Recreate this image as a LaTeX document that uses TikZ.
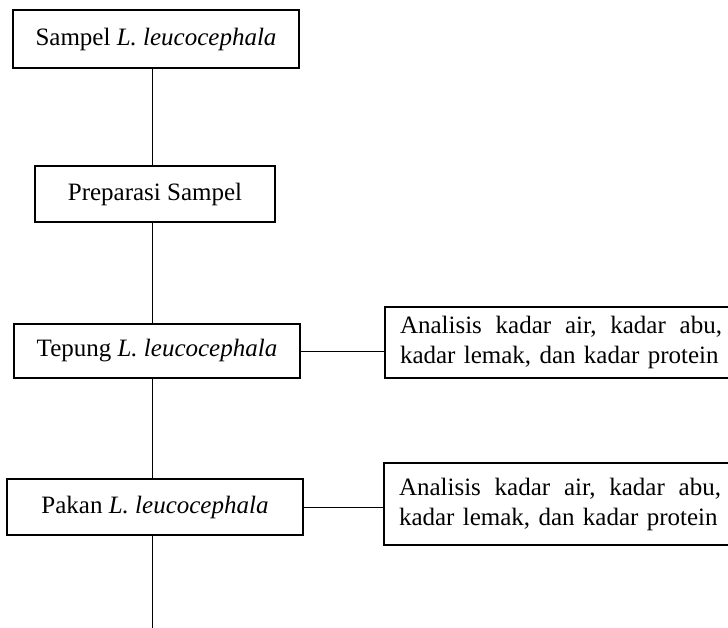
\documentclass[tikz,border=0pt]{standalone}
\usepackage{fontspec}
\setmainfont{Liberation Serif}
\newcommand{\firstline}{\hbox to 322pt{Analisis\hfill kadar\hfill air,\hfill kadar\hfill abu,}}
\begin{document}
\begin{tikzpicture}[x=1pt,y=-1pt,
  box/.style={draw,line width=1.5pt,inner sep=0pt,font=\fontsize{25}{30}\selectfont},
  side/.style={box,align=left,text width=322pt,inner xsep=15pt},
  link/.style={line width=1pt}]
\useasboundingbox (0,0) rectangle (728,628);
\node[box,minimum width=286pt,minimum height=58pt] (b1) at (156,39) {Sampel \textit{L. leucocephala}};
\node[box,minimum width=240pt,minimum height=56pt] (b2) at (155,194) {Preparasi Sampel};
\node[box,minimum width=286pt,minimum height=54pt] (b3) at (157,351) {Tepung \textit{L. leucocephala}};
\node[box,minimum width=296pt,minimum height=56pt] (b4) at (155,507) {Pakan \textit{L. leucocephala}};
\node[side,minimum height=71pt] (ra) at (561,342.5) {\firstline\\kadar lemak, dan kadar protein};
\node[side,minimum height=82pt] (rb) at (560,504) {\firstline\\kadar lemak, dan kadar protein};
\coordinate (spine) at (152,0);
\coordinate (end) at (152,628);
\draw[link] (b1.south -| spine) -- (b2.north -| spine);
\draw[link] (b2.south -| spine) -- (b3.north -| spine);
\draw[link] (b3.south -| spine) -- (b4.north -| spine);
\draw[link] (b4.south -| spine) -- (end);
\draw[link] (b3.east) -- (b3.east -| ra.west);
\draw[link] (b4.east) -- (b4.east -| rb.west);
\end{tikzpicture}
\end{document}
